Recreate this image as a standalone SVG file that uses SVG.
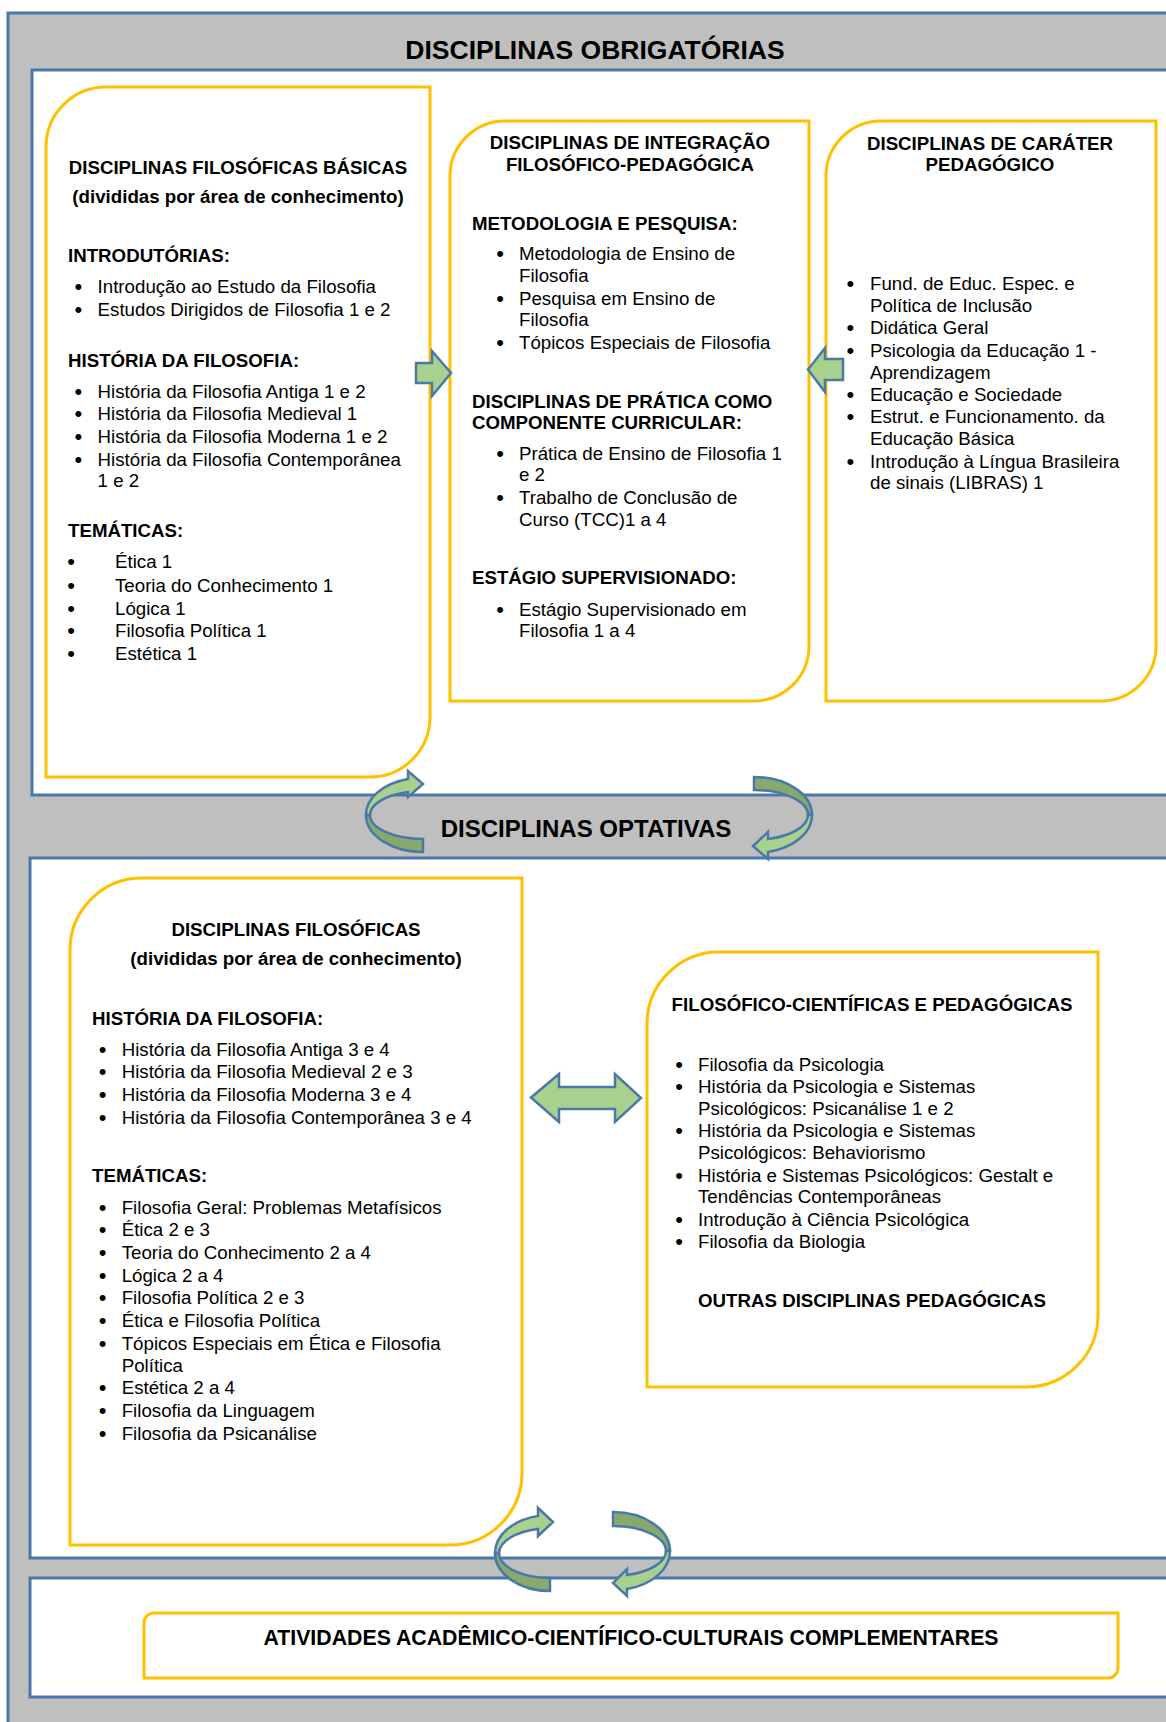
<svg xmlns="http://www.w3.org/2000/svg" width="1166" height="1722" viewBox="0 0 1166 1722">
<style>
.t{font-family:"Liberation Sans",Arial,sans-serif;font-size:18.7px;fill:#000}
.d{font-family:"Liberation Sans",Arial,sans-serif;font-size:22px;fill:#000}
.b{font-weight:bold}
.c{text-anchor:middle}
.panel{fill:#fff;stroke:#4A78A8;stroke-width:3}
.box{fill:#fff;stroke:#FFC000;stroke-width:3}
.arr{fill:#A9D18E;stroke:#4A78A8;stroke-width:2.5;stroke-linejoin:miter}
.arrd{fill:#88A96E;stroke:#4A78A8;stroke-width:2.5}
</style>
<rect x="8" y="13" width="1170" height="1720" fill="#BFBFBF" stroke="#4A78A8" stroke-width="3"/>
<g id="band-obrigatorias">
<rect class="panel" x="32" y="70" width="1150" height="725"/>
<text class="t b c" x="595" y="59" style="font-size:26.5px">DISCIPLINAS OBRIGATÓRIAS</text>
</g>
<g id="band-optativas">
<rect class="panel" x="30" y="858" width="1150" height="700"/>
<text class="t b c" x="586" y="837" style="font-size:24px">DISCIPLINAS OPTATIVAS</text>
</g>
<g id="band-atividades">
<rect class="panel" x="30" y="1578" width="1150" height="119"/>
</g>

<g id="basicas">
<path class="box" d="M106,87 H430 V717 A60,60 0 0 1 370,777 H46 V147 A60,60 0 0 1 106,87 Z"/>
<text class="t b c" x="238" y="174">DISCIPLINAS FILOSÓFICAS BÁSICAS</text>
<text class="t b c" x="238" y="203">(divididas por área de conhecimento)</text>
<text class="t b" x="68" y="262">INTRODUTÓRIAS:</text>
<text class="d" x="74.6" y="294">•</text><text class="t" x="97.6" y="293">Introdução ao Estudo da Filosofia</text>
<text class="d" x="74.6" y="317">•</text><text class="t" x="97.6" y="316">Estudos Dirigidos de Filosofia 1 e 2</text>
<text class="t b" x="68" y="367">HISTÓRIA DA FILOSOFIA:</text>
<text class="d" x="74.6" y="399">•</text><text class="t" x="97.6" y="398">História da Filosofia Antiga 1 e 2</text>
<text class="d" x="74.6" y="421">•</text><text class="t" x="97.6" y="420">História da Filosofia Medieval 1</text>
<text class="d" x="74.6" y="444">•</text><text class="t" x="97.6" y="443">História da Filosofia Moderna 1 e 2</text>
<text class="d" x="74.6" y="467">•</text><text class="t" x="97.6" y="466">História da Filosofia Contemporânea</text>
<text class="t" x="97.6" y="487">1 e 2</text>
<text class="t b" x="68" y="537">TEMÁTICAS:</text>
<text class="d" x="67.2" y="569">•</text><text class="t" x="115" y="568">Ética 1</text>
<text class="d" x="67.2" y="593">•</text><text class="t" x="115" y="592">Teoria do Conhecimento 1</text>
<text class="d" x="67.2" y="616">•</text><text class="t" x="115" y="615">Lógica 1</text>
<text class="d" x="67.2" y="638">•</text><text class="t" x="115" y="637">Filosofia Política 1</text>
<text class="d" x="67.2" y="661">•</text><text class="t" x="115" y="660">Estética 1</text>
</g>

<g id="integracao">
<path class="box" d="M505,121 H809 V646 A55,55 0 0 1 754,701 H450 V176 A55,55 0 0 1 505,121 Z"/>
<text class="t b c" x="630" y="149">DISCIPLINAS DE INTEGRAÇÃO</text>
<text class="t b c" x="630" y="171">FILOSÓFICO-PEDAGÓGICA</text>
<text class="t b" x="472" y="230">METODOLOGIA E PESQUISA:</text>
<text class="d" x="496.2" y="261">•</text><text class="t" x="519" y="260">Metodologia de Ensino de</text>
<text class="t" x="519" y="282">Filosofia</text>
<text class="d" x="496.2" y="306">•</text><text class="t" x="519" y="305">Pesquisa em Ensino de</text>
<text class="t" x="519" y="326">Filosofia</text>
<text class="d" x="496.2" y="350">•</text><text class="t" x="519" y="349">Tópicos Especiais de Filosofia</text>
<text class="t b" x="472" y="408">DISCIPLINAS DE PRÁTICA COMO</text>
<text class="t b" x="472" y="429">COMPONENTE CURRICULAR:</text>
<text class="d" x="496.2" y="461">•</text><text class="t" x="519" y="460">Prática de Ensino de Filosofia 1</text>
<text class="t" x="519" y="481">e 2</text>
<text class="d" x="496.2" y="505">•</text><text class="t" x="519" y="504">Trabalho de Conclusão de</text>
<text class="t" x="519" y="526">Curso (TCC)1 a 4</text>
<text class="t b" x="472" y="584">ESTÁGIO SUPERVISIONADO:</text>
<text class="d" x="496.2" y="617">•</text><text class="t" x="519" y="616">Estágio Supervisionado em</text>
<text class="t" x="519" y="637">Filosofia 1 a 4</text>
</g>

<g id="pedagogico">
<path class="box" d="M881,121 H1156 V646 A55,55 0 0 1 1101,701 H826 V176 A55,55 0 0 1 881,121 Z"/>
<text class="t b c" x="990" y="150">DISCIPLINAS DE CARÁTER</text>
<text class="t b c" x="990" y="171">PEDAGÓGICO</text>
<text class="d" x="846.5" y="291">•</text><text class="t" x="870" y="290">Fund. de Educ. Espec. e</text>
<text class="t" x="870" y="312">Política de Inclusão</text>
<text class="d" x="846.5" y="335">•</text><text class="t" x="870" y="334">Didática Geral</text>
<text class="d" x="846.5" y="358">•</text><text class="t" x="870" y="357">Psicologia da Educação 1 -</text>
<text class="t" x="870" y="379">Aprendizagem</text>
<text class="d" x="846.5" y="402">•</text><text class="t" x="870" y="401">Educação e Sociedade</text>
<text class="d" x="846.5" y="424">•</text><text class="t" x="870" y="423">Estrut. e Funcionamento. da</text>
<text class="t" x="870" y="445">Educação Básica</text>
<text class="d" x="846.5" y="469">•</text><text class="t" x="870" y="468">Introdução à Língua Brasileira</text>
<text class="t" x="870" y="489">de sinais (LIBRAS) 1</text>
</g>

<g id="filosoficas">
<path class="box" d="M142,878 H522 V1473 A72,72 0 0 1 450,1545 H70 V950 A72,72 0 0 1 142,878 Z"/>
<text class="t b c" x="296" y="936">DISCIPLINAS FILOSÓFICAS</text>
<text class="t b c" x="296" y="965">(divididas por área de conhecimento)</text>
<text class="t b" x="92" y="1025">HISTÓRIA DA FILOSOFIA:</text>
<text class="d" x="98.8" y="1057">•</text><text class="t" x="121.7" y="1056">História da Filosofia Antiga 3 e 4</text>
<text class="d" x="98.8" y="1079">•</text><text class="t" x="121.7" y="1078">História da Filosofia Medieval 2 e 3</text>
<text class="d" x="98.8" y="1102">•</text><text class="t" x="121.7" y="1101">História da Filosofia Moderna 3 e 4</text>
<text class="d" x="98.8" y="1125">•</text><text class="t" x="121.7" y="1124">História da Filosofia Contemporânea 3 e 4</text>
<text class="t b" x="92" y="1182">TEMÁTICAS:</text>
<text class="d" x="98.8" y="1215">•</text><text class="t" x="121.7" y="1214">Filosofia Geral: Problemas Metafísicos</text>
<text class="d" x="98.8" y="1237">•</text><text class="t" x="121.7" y="1236">Ética 2 e 3</text>
<text class="d" x="98.8" y="1260">•</text><text class="t" x="121.7" y="1259">Teoria do Conhecimento 2 a 4</text>
<text class="d" x="98.8" y="1283">•</text><text class="t" x="121.7" y="1282">Lógica 2 a 4</text>
<text class="d" x="98.8" y="1305">•</text><text class="t" x="121.7" y="1304">Filosofia Política 2 e 3</text>
<text class="d" x="98.8" y="1328">•</text><text class="t" x="121.7" y="1327">Ética e Filosofia Política</text>
<text class="d" x="98.8" y="1351">•</text><text class="t" x="121.7" y="1350">Tópicos Especiais em Ética e Filosofia</text>
<text class="t" x="121.7" y="1372">Política</text>
<text class="d" x="98.8" y="1395">•</text><text class="t" x="121.7" y="1394">Estética 2 a 4</text>
<text class="d" x="98.8" y="1418">•</text><text class="t" x="121.7" y="1417">Filosofia da Linguagem</text>
<text class="d" x="98.8" y="1441">•</text><text class="t" x="121.7" y="1440">Filosofia da Psicanálise</text>
</g>

<g id="cientificas">
<path class="box" d="M719,952 H1098 V1315 A72,72 0 0 1 1026,1387 H647 V1024 A72,72 0 0 1 719,952 Z"/>
<text class="t b c" x="872" y="1011">FILOSÓFICO-CIENTÍFICAS E PEDAGÓGICAS</text>
<text class="d" x="675.2" y="1072">•</text><text class="t" x="698" y="1071">Filosofia da Psicologia</text>
<text class="d" x="675.2" y="1094">•</text><text class="t" x="698" y="1093">História da Psicologia e Sistemas</text>
<text class="t" x="698" y="1115">Psicológicos: Psicanálise 1 e 2</text>
<text class="d" x="675.2" y="1138">•</text><text class="t" x="698" y="1137">História da Psicologia e Sistemas</text>
<text class="t" x="698" y="1159">Psicológicos: Behaviorismo</text>
<text class="d" x="675.2" y="1183">•</text><text class="t" x="698" y="1182">História e Sistemas Psicológicos: Gestalt e</text>
<text class="t" x="698" y="1203">Tendências Contemporâneas</text>
<text class="d" x="675.2" y="1227">•</text><text class="t" x="698" y="1226">Introdução à Ciência Psicológica</text>
<text class="d" x="675.2" y="1249">•</text><text class="t" x="698" y="1248">Filosofia da Biologia</text>
<text class="t b c" x="872" y="1307">OUTRAS DISCIPLINAS PEDAGÓGICAS</text>
</g>

<g id="atividades">
<path class="box" d="M154,1613 H1118 V1668 A10,10 0 0 1 1108,1678 H144 V1623 A10,10 0 0 1 154,1613 Z"/>
<text class="t b c" x="631" y="1645" style="font-size:21.3px">ATIVIDADES ACADÊMICO-CIENTÍFICO-CULTURAIS COMPLEMENTARES</text>
</g>

<g id="connectors">
<path class="arr" d="M416,363 H432 V351 L451,373 L432,396 V383 H416 Z"/>
<path class="arr" d="M843,359 H825 V348 L808,369.5 L825,392 V380 H843 Z"/>
<path class="arr" d="M531,1097.5 L559,1074 V1087 H615 V1074 L641,1098 L615,1122 V1109 H559 V1122 Z"/>
<path class="arrd" d="M366,815 A57,37 0 0 0 423,852 L423,839 A53,24 0 0 1 370,815 Z"/>
<path class="arr" d="M408,779 A57,37 0 0 0 366,815 L370,815 A53,24 0 0 1 408,792 L408,797 L423,784 L408,771 Z"/>
<path class="arrd" d="M754,777 A58,38 0 0 1 812,815 L808,815 A54,25 0 0 0 754,790 Z"/>
<path class="arr" d="M812,815 A58,38 0 0 1 768,852 L768,859 L753,846 L768,832 L768,839 A54,25 0 0 0 808,815 Z"/>
<path class="arrd" d="M495,1553 A55,38 0 0 0 550,1591 L550,1578 A51,25 0 0 1 499,1553 Z"/>
<path class="arr" d="M538,1516 A55,38 0 0 0 495,1553 L499,1553 A51,25 0 0 1 538,1529 L538,1536 L553,1522 L538,1508 Z"/>
<path class="arrd" d="M613,1512 A57,39 0 0 1 670,1551 L666,1551 A53,25 0 0 0 613,1526 Z"/>
<path class="arr" d="M670,1551 A57,39 0 0 1 627,1589 L627,1596 L613,1583 L627,1569 L627,1575 A53,25 0 0 0 666,1551 Z"/>
</g>
</svg>
